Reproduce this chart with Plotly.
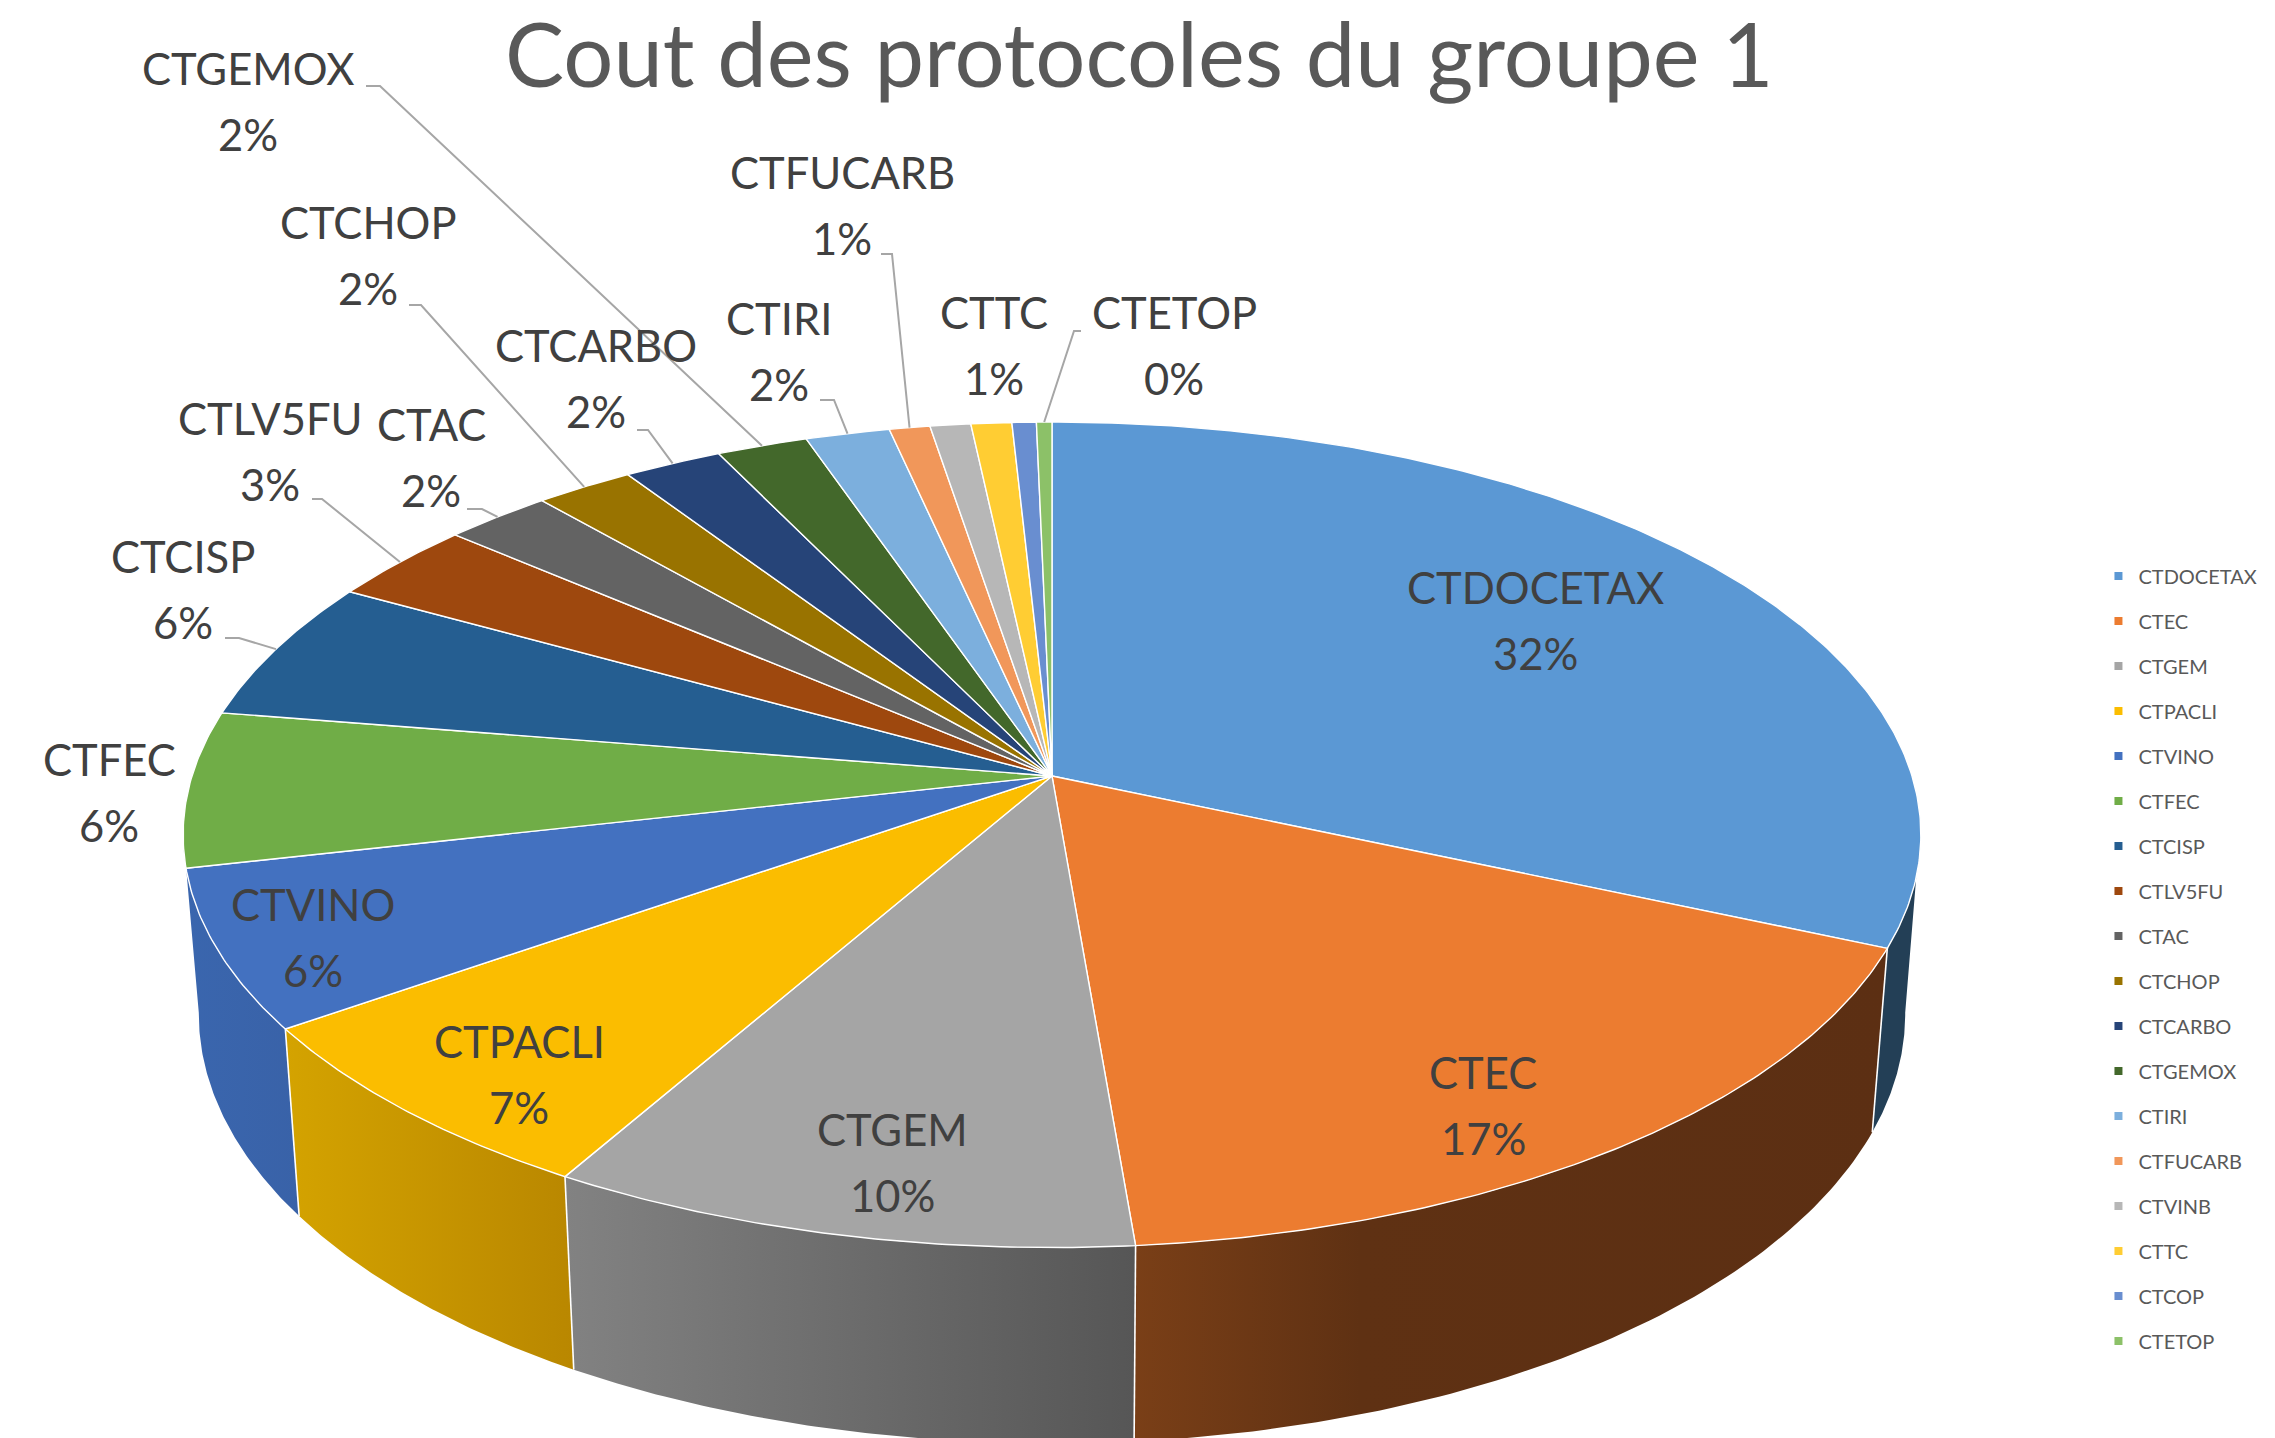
import numpy as np
import plotly.graph_objects as go

# ---- data ----
protocols = ["CTDOCETAX", "CTEC", "CTGEM", "CTPACLI", "CTVINO", "CTFEC", "CTCISP", "CTLV5FU", "CTAC",
             "CTCHOP", "CTCARBO", "CTGEMOX", "CTIRI", "CTFUCARB", "CTVINB", "CTTC", "CTCOP", "CTETOP"]
shares = [31.6, 17.1, 9.6, 7.0, 6.2, 6.1, 5.55, 3.2, 2.3, 2.1, 2.1, 1.95, 1.8, 0.87, 0.87, 0.87, 0.52, 0.33]
colors = ["#5B98D4", "#EC7C30", "#A5A5A5", "#FBBD00", "#4371C0", "#70AD47", "#255E91", "#9E480E", "#636363",
          "#997300", "#264478", "#43682B", "#7CAFDD", "#F1975A", "#B7B7B7", "#FFCD33", "#698ED0", "#8CC168"]
title = "Cout des protocoles du groupe 1"

# ---- layout of labels (pixel space) ----
W, H = 2275, 1438
label_pos = {"CTDOCETAX": (1535, 620), "CTEC": (1483, 1105), "CTGEM": (892, 1162), "CTPACLI": (519, 1074),
             "CTVINO": (313, 937), "CTFEC": (109, 792), "CTCISP": (183, 589), "CTLV5FU": (270, 451),
             "CTAC": (431, 457), "CTCHOP": (368, 255), "CTCARBO": (596, 378), "CTGEMOX": (248, 101),
             "CTIRI": (779, 351), "CTFUCARB": (842, 205), "CTTC": (994, 345), "CTETOP": (1174, 345)}
leader_elbows = {"CTGEMOX": [(366, 86), (380, 86)], "CTFUCARB": [(881, 254), (892, 254)],
                 "CTIRI": [(820, 400), (834, 400)], "CTCARBO": [(637, 430), (648, 430)],
                 "CTCHOP": [(409, 305), (421, 305)], "CTLV5FU": [(312, 499), (322, 499)],
                 "CTAC": [(467, 509), (482, 509)], "CTCISP": [(225, 638), (239, 638)],
                 "CTETOP": [(1081, 331), (1074, 331)]}
LINE_OFFSET = 33

# ---- projection of the tilted disc ----
CX, CY = 1052, 776
A, B, K = 860.0, 404.4, 0.1424
BOT_SX, BOT_SY, BOT_DY = 0.982, 1.04, 177.0
LEFT_RIM_T = 262.0
RIGHT_RIM_T_TOP, RIGHT_RIM_T_BOTTOM = 104.0, 98.0


def top(t):
    t = np.radians(np.asarray(t, float))
    x, y = np.sin(t), -np.cos(t)
    d = 1 - K * y
    return A * x / d, B * y / d


def to_screen(X, Y):
    return CX + X, CY + Y


def bottom(t):
    X, Y = top(t)
    return CX + BOT_SX * X, CY + BOT_SY * Y + BOT_DY


total = sum(shares)
edges = np.concatenate([[0], np.cumsum(shares) / total * 360])

wall_scales = {
    "CTDOCETAX": [[0, "#233F56"], [1, "#233F56"]],
    "CTEC": [[0, "#7A3F17"], [0.3, "#5F3113"], [1, "#5C2F13"]],
    "CTGEM": [[0, "#828282"], [1, "#565656"]],
    "CTPACLI": [[0, "#D4A300"], [1, "#B98700"]],
    "CTVINO": [[0, "#3A66AE"], [1, "#3962A8"]],
}

fig = go.Figure()

# side walls
sep_x, sep_y = [], []
for i, name in enumerate(protocols):
    if name not in wall_scales:
        continue
    t0_top = t0_bot = edges[i]
    t1 = edges[i + 1]
    if name == "CTDOCETAX":
        t0_top, t0_bot = RIGHT_RIM_T_TOP, RIGHT_RIM_T_BOTTOM
    if name == "CTVINO":
        t1 = LEFT_RIM_T
    xt, yt = to_screen(*top(np.linspace(t0_top, t1, 80)))
    xb, yb = bottom(np.linspace(t0_bot, t1, 80))
    fig.add_trace(go.Scatter(
        x=np.concatenate([xt, xb[::-1]]), y=np.concatenate([yt, yb[::-1]]),
        mode="lines", line=dict(width=0), fill="toself",
        fillgradient=dict(type="horizontal", colorscale=wall_scales[name]),
        showlegend=False, hoverinfo="skip"))
    if edges[i + 1] < 250:
        a = to_screen(*top(edges[i + 1]))
        b = bottom(edges[i + 1])
        sep_x += [a[0], b[0], None]
        sep_y += [a[1], b[1], None]
fig.add_trace(go.Scatter(x=sep_x, y=sep_y, mode="lines", line=dict(color="white", width=1.6),
                         showlegend=False, hoverinfo="skip"))

# top face
for i, name in enumerate(protocols):
    ts = np.linspace(edges[i], edges[i + 1], max(int(edges[i + 1] - edges[i]) * 2, 6))
    xt, yt = to_screen(*top(ts))
    fig.add_trace(go.Scatter(
        x=np.concatenate([[CX], xt, [CX]]), y=np.concatenate([[CY], yt, [CY]]),
        mode="lines", line=dict(color="white", width=1.4), fill="toself", fillcolor=colors[i],
        showlegend=False, hoverinfo="skip"))

# leader lines
for name, pts in leader_elbows.items():
    i = protocols.index(name)
    xr, yr = to_screen(*top((edges[i] + edges[i + 1]) / 2))
    fig.add_trace(go.Scatter(x=[p[0] for p in pts] + [float(xr)], y=[p[1] for p in pts] + [float(yr)],
                             mode="lines", line=dict(color="#A6A6A6", width=2),
                             showlegend=False, hoverinfo="skip"))

# legend entries
for name, c in zip(protocols, colors):
    fig.add_trace(go.Scatter(x=[None], y=[None], mode="markers", name=name, legendgroup=name,
                             marker=dict(symbol="square", size=8, color=c)))

# data labels
annotations = []
label_font = dict(family="Lato", size=43.5, color="#404040")
for i, name in enumerate(protocols):
    if name in label_pos:
        px, py = label_pos[name]
        annotations.append(dict(x=px, y=py - LINE_OFFSET, xref="x", yref="y", showarrow=False,
                                text=name, font=label_font))
        annotations.append(dict(x=px, y=py + LINE_OFFSET, xref="x", yref="y", showarrow=False,
                                text=f"{round(shares[i] / total * 100)}%", font=label_font))
annotations.append(dict(x=1139, y=53, xref="x", yref="y", showarrow=False, text=title,
                        font=dict(family="Lato", size=88.5, color="#595959")))

fig.update_layout(
    width=W, height=H, margin=dict(l=0, r=0, t=0, b=0),
    paper_bgcolor="white", plot_bgcolor="white",
    xaxis=dict(range=[0, W], visible=False, fixedrange=True),
    yaxis=dict(range=[H, 0], visible=False, fixedrange=True),
    annotations=annotations,
    legend=dict(x=0.9224, y=0.3335, xanchor="left", yanchor="middle", itemwidth=30,
                tracegroupgap=16, font=dict(family="Lato", size=20, color="#595959"),
                bgcolor="rgba(0,0,0,0)"),
    showlegend=True,
)
fig.write_html("out.html", config=dict(displayModeBar=False),
               post_script="document.body.style.margin='0';document.body.style.overflow='hidden';")
